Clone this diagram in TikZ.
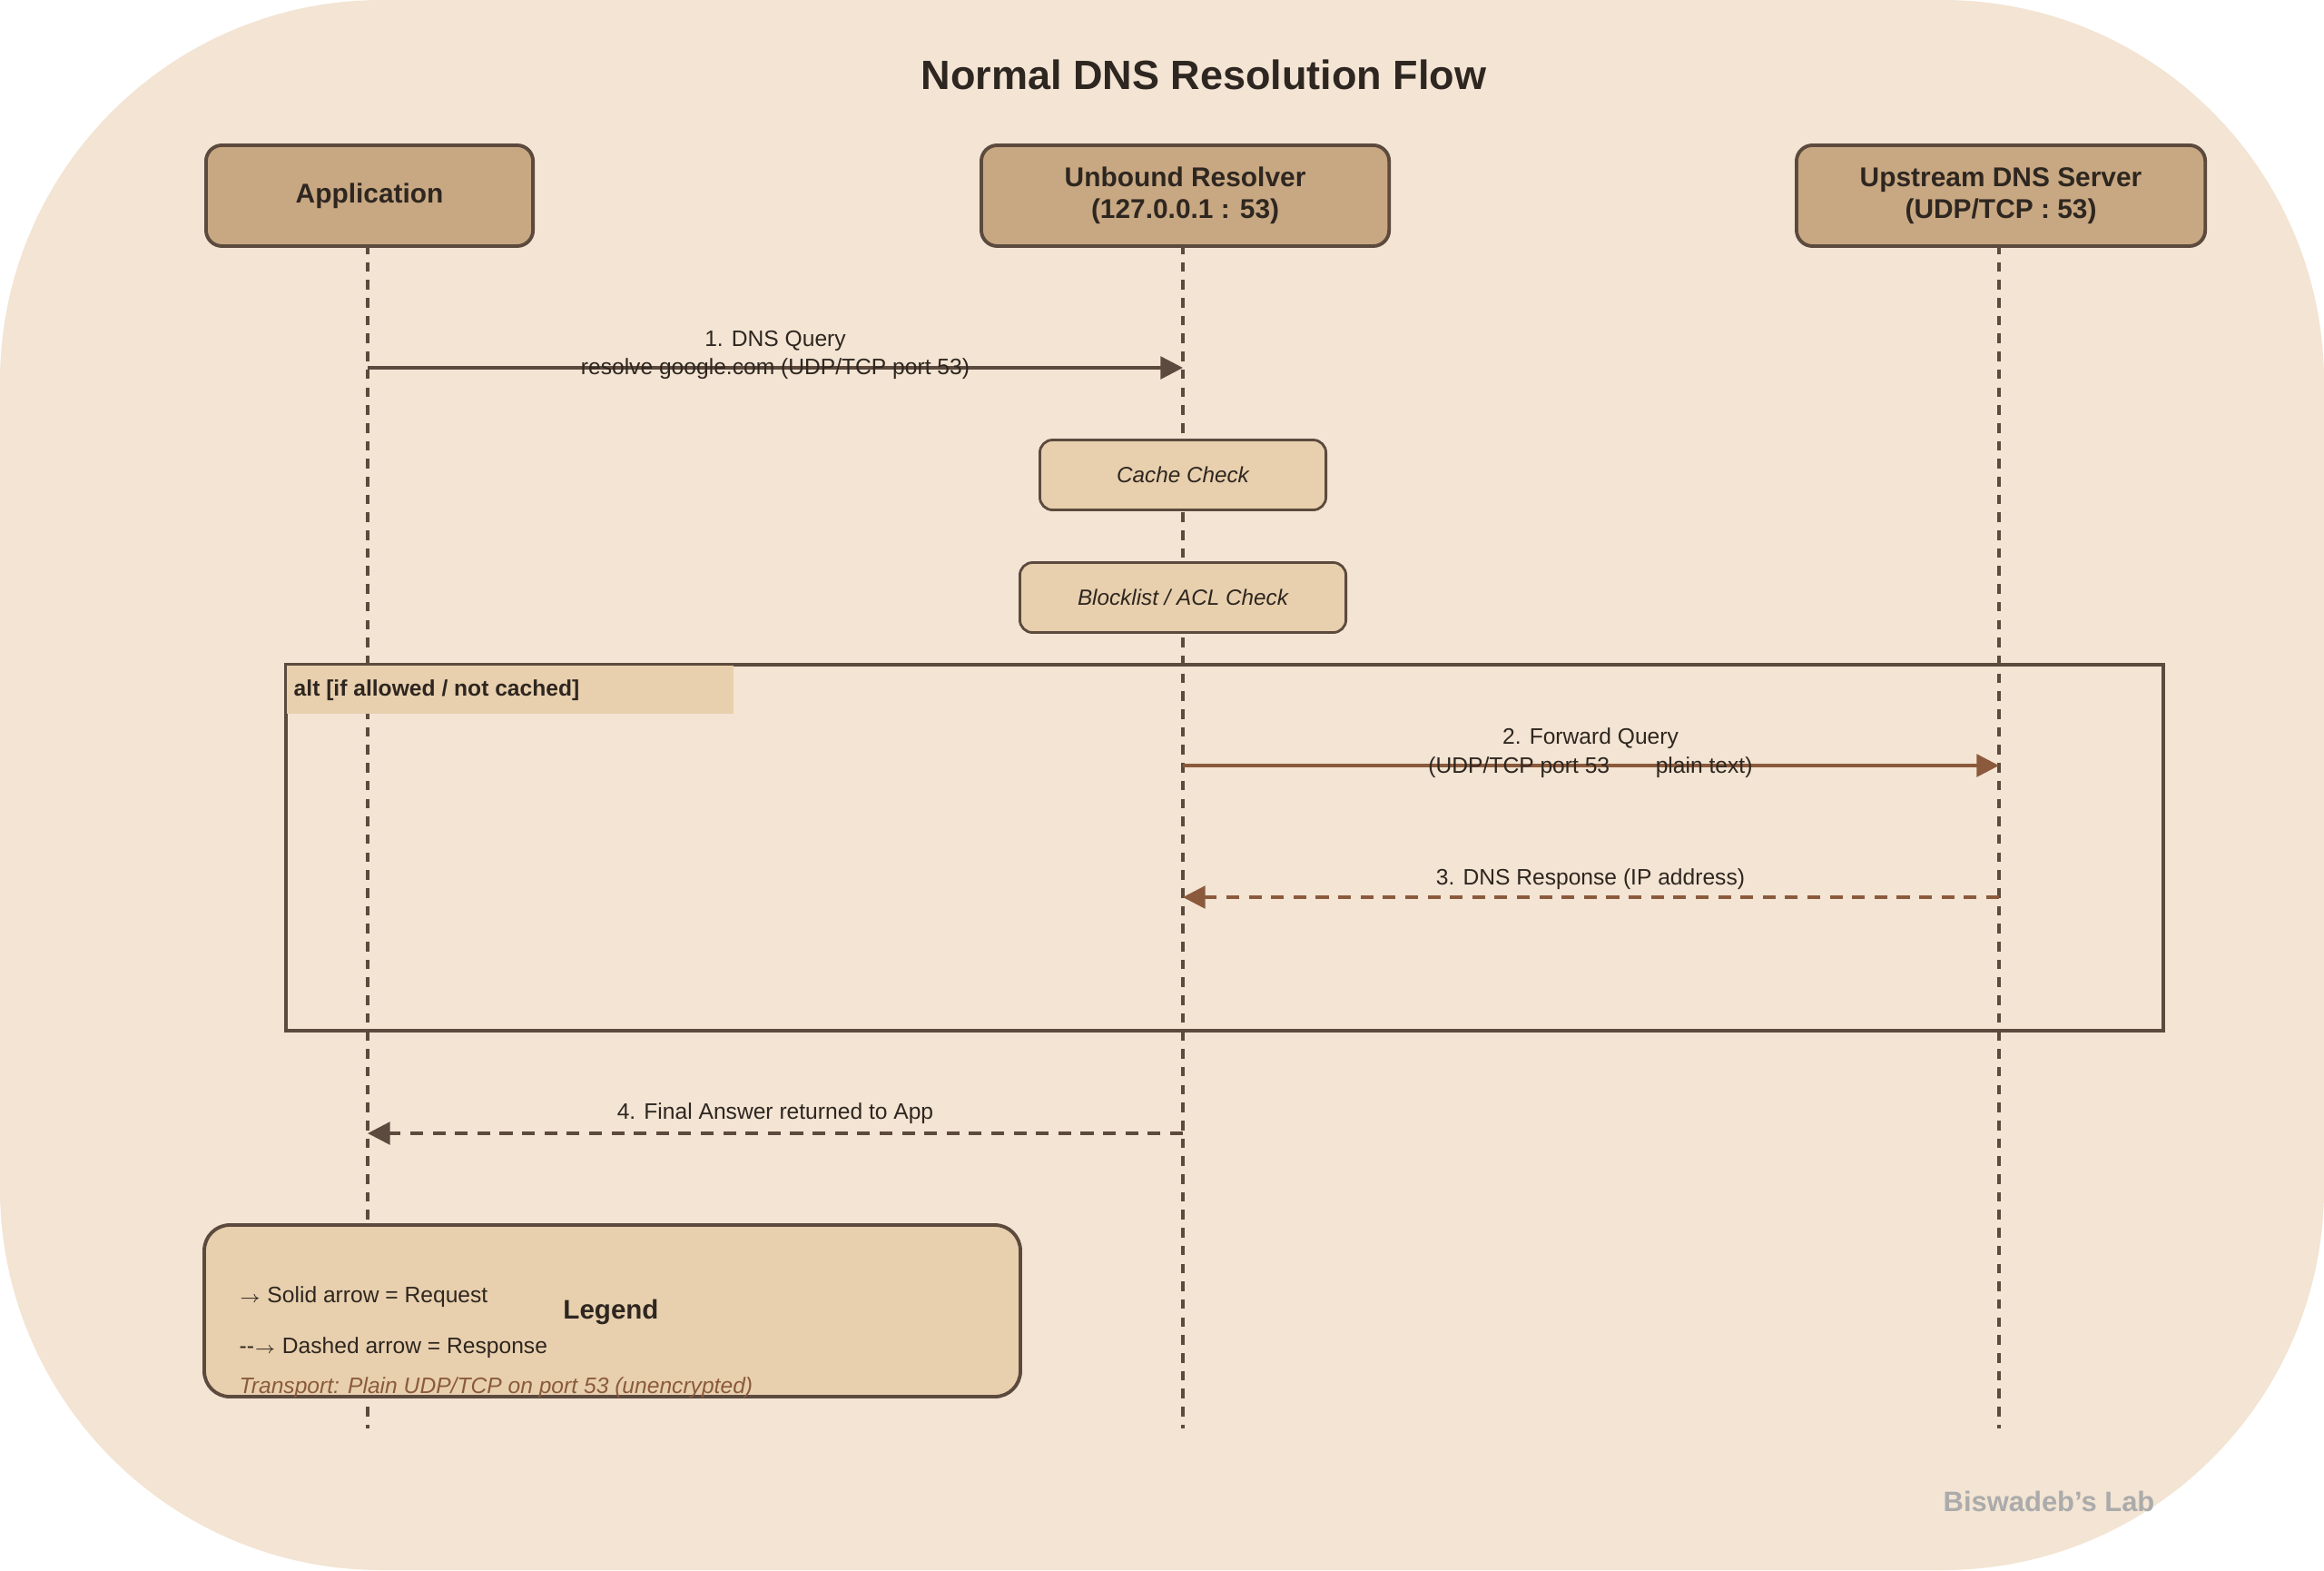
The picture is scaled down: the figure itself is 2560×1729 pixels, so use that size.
\documentclass[tikz,border=0pt]{standalone}
\usepackage{fontspec}
\setmainfont{Liberation Sans}
\usepackage{tikz}
\usetikzlibrary{arrows.meta}
\definecolor{bgcol}{HTML}{F3E4D3}
\definecolor{boxcol}{HTML}{C8A882}
\definecolor{notecol}{HTML}{E8D0AE}
\definecolor{edgecol}{HTML}{5C4A3E}
\definecolor{fwdcol}{HTML}{8B5A3C}
\definecolor{txtcol}{HTML}{2E2620}
\tikzset{
    actor/.style={draw=edgecol, fill=boxcol, line width=1.1pt, rounded corners=5pt, minimum width=3.6cm, minimum height=1.11cm, align=center, font=\fontsize{8.5}{10}\selectfont\bfseries, text=txtcol, anchor=north west},
    note/.style={draw=edgecol, fill=notecol, line width=0.8pt, rounded corners=4pt, minimum height=0.77cm, font=\fontsize{6.9}{8}\selectfont\itshape, text=txtcol},
    life/.style={edgecol, line width=0.9pt, dash pattern=on 3pt off 2.6pt},
    msg/.style={font=\fontsize{7}{9}\selectfont, text=txtcol, align=center},
    req/.style={edgecol, line width=1pt, -{Triangle[length=7pt, width=7pt]}},
    resp/.style={edgecol, line width=1pt, dash pattern=on 4pt off 3pt, -{Triangle[length=7pt, width=7pt]}}
}
\begin{document}
\begin{tikzpicture}[x=0.01cm, y=-0.01cm]
    % Background
    \fill[bgcol, rounded corners=4.2cm] (0, 0) rectangle (2560, 1729);
    \useasboundingbox (0, 0) rectangle (2560, 1729);
    \node (title) [font=\fontsize{12.8}{14}\selectfont\bfseries, text=txtcol] at (1326, 82) {Normal DNS Resolution Flow};
    % Lifelines
    \coordinate (appTop) at (405, 269);  \coordinate (appBot) at (405, 1573);
    \coordinate (ubTop) at (1303, 269);  \coordinate (ubBot) at (1303, 1573);
    \coordinate (upTop) at (2202, 269);  \coordinate (upBot) at (2202, 1573);
    \draw [life] (appTop) -- (appBot);
    \draw [life] (ubTop) -- (ubBot);
    \draw [life] (upTop) -- (upBot);
    % Participants
    \node (app) [actor] at (225, 158) {Application};
    \node (ub) [actor, minimum width=4.49cm] at (1079, 158) {Unbound Resolver\\(127.0.0.1 : 53)};
    \node (up) [actor, minimum width=4.5cm] at (1977, 158) {Upstream DNS Server\\(UDP/TCP : 53)};
    % Checks
    \node (cache) [note, minimum width=3.15cm] at (1303, 523) {Cache Check};
    \node (block) [note, minimum width=3.59cm] at (1303, 658) {Blocklist / ACL Check};
    % Message 1
    \coordinate (m1a) at (405, 405);  \coordinate (m1b) at (1303, 405);
    \draw [req] (m1a) -- (m1b);
    \node (m1) [msg] at (854, 391) {1. DNS Query\\resolve google.com (UDP/TCP port 53)};
    % alt frame
    \draw [edgecol, line width=1.1pt] (315, 732) rectangle (2383, 1135);
    \fill [notecol] (316, 733) rectangle (808, 786);
    \node (alt) [anchor=west, inner sep=2pt, font=\fontsize{7}{8}\selectfont\bfseries, text=txtcol] at (316, 760) {alt [if allowed / not cached]};
    % Message 2
    \coordinate (m2a) at (1303, 843);  \coordinate (m2b) at (2202, 843);
    \draw [req, fwdcol] (m2a) -- (m2b);
    \node (m2) [msg] at (1752, 829) {2. Forward Query\\(UDP/TCP port 53 \hspace{1.5em} plain text)};
    % Message 3
    \coordinate (m3a) at (2202, 988);  \coordinate (m3b) at (1303, 988);
    \draw [resp, fwdcol] (m3a) -- (m3b);
    \node (m3) [msg] at (1752, 968) {3. DNS Response (IP address)};
    % Message 4
    \coordinate (m4a) at (1303, 1248);  \coordinate (m4b) at (405, 1248);
    \draw [resp] (m4a) -- (m4b);
    \node (m4) [msg] at (854, 1226) {4. Final Answer returned to App};
    % Legend
    \draw [edgecol, fill=notecol, line width=1.1pt, rounded corners=8pt] (225, 1349) rectangle (1124, 1538);
    \node (legend) [font=\fontsize{8.4}{10}\selectfont\bfseries, text=txtcol] at (673, 1445) {Legend};
    \node (solid) [msg, anchor=west, inner sep=0pt] at (263, 1428) {{\tiny$\rightarrow$} Solid arrow = Request};
    \node (dash) [msg, anchor=west, inner sep=0pt] at (263, 1484) {-{}-{\tiny$\rightarrow$} Dashed arrow = Response};
    \node (trans) [msg, anchor=west, inner sep=0pt, text=fwdcol, font=\fontsize{7}{8}\selectfont\itshape] at (263, 1528) {Transport: Plain UDP/TCP on port 53 (unencrypted)};
    % Watermark
    \node (mark) [font=\fontsize{8.8}{10}\selectfont\bfseries, text=black!33] at (2257, 1653) {Biswadeb's Lab};
\end{tikzpicture}
\end{document}
